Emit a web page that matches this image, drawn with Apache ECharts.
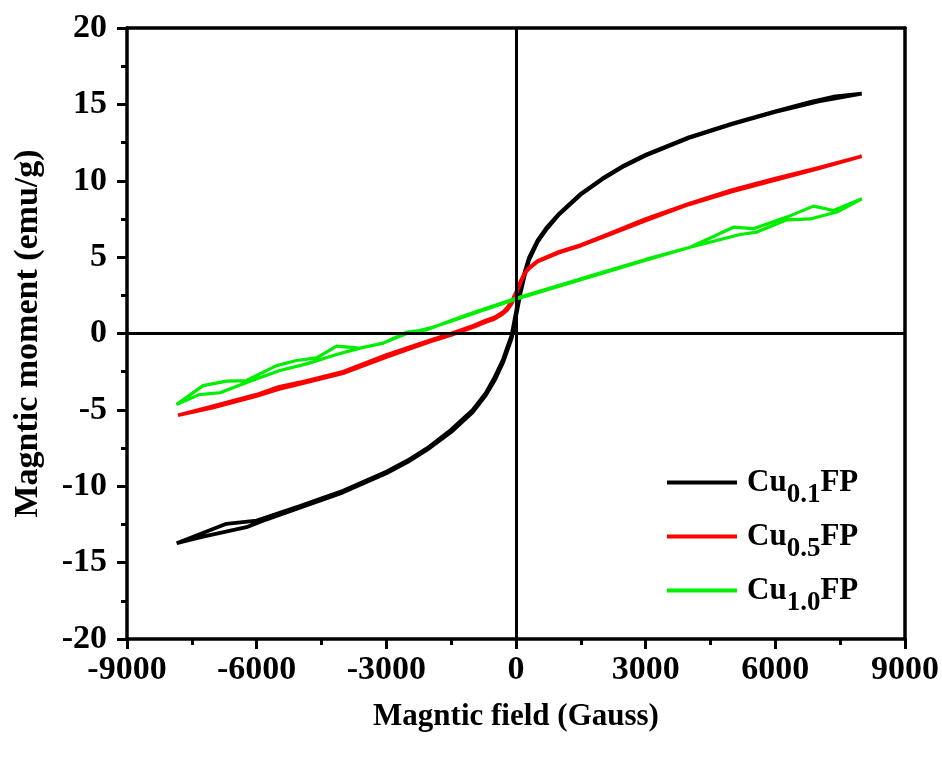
<!DOCTYPE html>
<html><head><meta charset="utf-8">
<script src="https://cdn.jsdelivr.net/npm/echarts@6/dist/echarts.min.js"></script>
<style>html,body{margin:0;padding:0;background:#fff}#c{width:942px;height:760px}</style>
</head><body><div id="c"></div>
<script>
// Axis settings
const xRange = [-9000, 9000];
const xStep = 3000;
const yRange = [-20, 20];
const yStep = 5;
const xTitle = 'Magntic field (Gauss)';
const yTitle = 'Magntic moment (emu/g)';

// Cu0.1FP — descending branch
const cu01FieldDown = [8000, 7340, 6800, 6000, 5000, 4000, 3000, 2500, 2000, 1500, 1000, 700, 500, 300, 200, 100, 0, -100, -200, -300, -500, -700, -1000, -1500, -2000, -2500, -3000, -4000, -5000, -6000, -6700, -7850];
const cu01MomentDown = [15.7, 15.5, 15.15, 14.55, 13.75, 12.85, 11.7, 11.0, 10.15, 9.15, 7.85, 6.9, 6.1, 4.95, 4.0, 2.9, 1.4, -0.1, -0.9, -1.7, -2.9, -3.9, -5.0, -6.3, -7.4, -8.3, -9.05, -10.3, -11.3, -12.25, -12.46, -13.73];
// Cu0.1FP — ascending branch
const cu01FieldUp = [-7850, -7240, -6235, -5900, -5000, -4000, -3000, -2500, -2000, -1500, -1000, -700, -500, -300, -200, -100, 0, 100, 200, 300, 500, 700, 1000, 1500, 2000, 2500, 3000, 4000, 5000, 6000, 7000, 8000];
const cu01MomentUp = [-13.73, -13.3, -12.68, -12.3, -11.4, -10.4, -9.15, -8.4, -7.5, -6.45, -5.15, -4.05, -3.1, -1.9, -1.1, -0.3, 1.1, 2.6, 3.8, 4.8, 6.0, 6.8, 7.8, 9.1, 10.1, 10.95, 11.65, 12.8, 13.7, 14.5, 15.2, 15.7];

// Cu0.5FP
const cu05FieldDown = [8000, 7000, 6000, 5000, 4000, 3000, 2000, 1500, 1000, 500, 300, 200, 100, 0, -100, -200, -300, -500, -700, -1000, -1500, -2000, -3000, -4000, -5000, -5500, -6000, -7000, -7820];
const cu05MomentDown = [11.6, 10.85, 10.15, 9.4, 8.5, 7.5, 6.35, 5.8, 5.35, 4.75, 4.3, 3.95, 3.4, 2.7, 2.1, 1.7, 1.4, 1.05, 0.85, 0.5, 0.0, -0.45, -1.4, -2.5, -3.2, -3.5, -4.0, -4.75, -5.35];
const cu05FieldUp = [-7820, -7000, -6000, -5500, -5000, -4000, -3000, -2000, -1500, -1000, -700, -500, -300, -200, -100, 0, 100, 200, 300, 500, 1000, 1500, 2000, 3000, 4000, 5000, 6000, 7000, 8000];
const cu05MomentUp = [-5.35, -4.85, -4.1, -3.65, -3.3, -2.6, -1.55, -0.55, -0.1, 0.4, 0.75, 0.95, 1.3, 1.55, 1.95, 2.55, 3.3, 3.9, 4.25, 4.7, 5.3, 5.75, 6.3, 7.4, 8.45, 9.3, 10.05, 10.8, 11.6];

// Cu1.0FP
const cu10FieldDown = [8002, 7346, 6883, 6265, 5494, 5030, 4028, 3000, 2000, 1000, 0, -1000, -1450, -2067, -2530, -3071, -3611, -4150, -4613, -5076, -5540, -6235, -6700, -7240, -7855];
const cu10MomentDown = [8.82, 8.05, 8.34, 7.62, 6.86, 6.96, 5.65, 4.85, 4.0, 3.15, 2.3, 1.35, 0.9, 0.24, 0.09, -0.63, -0.96, -0.83, -1.6, -1.77, -2.1, -3.08, -3.12, -3.41, -4.65];
const cu10FieldUp = [-7855, -7330, -6850, -6157, -5463, -4846, -4150, -3611, -3071, -2530, -2000, -1450, -1000, 0, 1000, 2000, 3000, 4028, 5185, 5571, 6265, 6806, 7423, 8002];
const cu10MomentUp = [-4.65, -4.0, -3.88, -3.12, -2.42, -1.99, -1.38, -0.96, -0.63, 0.0, 0.35, 0.85, 1.3, 2.25, 3.1, 3.95, 4.8, 5.65, 6.48, 6.64, 7.44, 7.5, 7.95, 8.82];

const seriesNames = ['Cu0.1FP', 'Cu0.5FP', 'Cu1.0FP'];
const seriesColors = ['#000000', '#ff0000', '#00ee00'];
const seriesWidths = [3.8, 3.6, 3.2];

function loop(fd, md, fu, mu) {
  const pts = [];
  for (let i = 0; i < fd.length; i++) pts.push([fd[i], md[i]]);
  for (let i = 0; i < fu.length; i++) pts.push([fu[i], mu[i]]);
  return pts;
}
const loops = [
  loop(cu01FieldDown, cu01MomentDown, cu01FieldUp, cu01MomentUp),
  loop(cu05FieldDown, cu05MomentDown, cu05FieldUp, cu05MomentUp),
  loop(cu10FieldDown, cu10MomentDown, cu10FieldUp, cu10MomentUp)
];

const FONT = 'Liberation Serif';
const chart = echarts.init(document.getElementById('c'), null, {renderer: 'canvas'});

const plain = v => String(v);
const axisLineStyle = {color: '#000', width: 3.5};
const mainX = {
  type: 'value', min: xRange[0], max: xRange[1], interval: xStep,
  position: 'bottom',
  name: xTitle, nameLocation: 'middle', nameGap: 62,
  nameTextStyle: {fontFamily: FONT, fontWeight: 'bold', fontSize: 31, color: '#000'},
  axisLine: {show: true, onZero: false, lineStyle: axisLineStyle},
  axisTick: {show: true, inside: false, length: 10, lineStyle: {color: '#000', width: 3}},
  minorTick: {show: true, splitNumber: 2, length: 6, lineStyle: {color: '#000', width: 3}},
  axisLabel: {fontFamily: FONT, fontWeight: 'bold', fontSize: 34, color: '#000', margin: 14, formatter: plain},
  splitLine: {show: false}
};
const mainY = {
  type: 'value', min: yRange[0], max: yRange[1], interval: yStep,
  position: 'left',
  name: yTitle, nameLocation: 'middle', nameGap: 82,
  nameTextStyle: {fontFamily: FONT, fontWeight: 'bold', fontSize: 34, color: '#000'},
  axisLine: {show: true, onZero: false, lineStyle: axisLineStyle},
  axisTick: {show: true, inside: false, length: 10, lineStyle: {color: '#000', width: 3}},
  minorTick: {show: true, splitNumber: 2, length: 6, lineStyle: {color: '#000', width: 3}},
  axisLabel: {fontFamily: FONT, fontWeight: 'bold', fontSize: 34, color: '#000', margin: 20, formatter: plain},
  splitLine: {show: false}
};
const boxX = {
  type: 'value', min: xRange[0], max: xRange[1], interval: xStep, position: 'top',
  axisLine: {show: true, onZero: false, lineStyle: axisLineStyle},
  axisTick: {show: false}, axisLabel: {show: false}, splitLine: {show: false}
};
const boxY = {
  type: 'value', min: yRange[0], max: yRange[1], interval: yStep, position: 'right',
  axisLine: {show: true, onZero: false, lineStyle: axisLineStyle},
  axisTick: {show: false}, axisLabel: {show: false}, splitLine: {show: false}
};

const legendRich = {
  c: {fontFamily: FONT, fontWeight: 'bold', fontSize: 31, color: '#000', lineHeight: 40, padding: [0, 0, 0, 5]},
  a: {fontFamily: FONT, fontWeight: 'bold', fontSize: 31, color: '#000', lineHeight: 40},
  b: {fontFamily: FONT, fontWeight: 'bold', fontSize: 27, color: '#000', lineHeight: 40, padding: [26, 0, 0, 0]}
};

const series = loops.map((pts, i) => ({
  name: seriesNames[i],
  type: 'line',
  data: pts,
  symbol: 'none',
  showSymbol: false,
  smooth: false,
  z: 3,
  lineStyle: {color: seriesColors[i], width: seriesWidths[i]},
  itemStyle: {color: seriesColors[i]},
  emphasis: {disabled: true}
}));
series.push({
  type: 'line', data: [], z: 1, silent: true,
  markLine: {
    silent: true, symbol: 'none', animation: false,
    label: {show: false},
    lineStyle: {color: '#000', width: 3, type: 'solid'},
    emphasis: {disabled: true},
    data: [{xAxis: 0}, {yAxis: 0}]
  }
});

chart.setOption({
  backgroundColor: '#fff',
  animation: false,
  grid: {left: 127, right: 36, top: 28, bottom: 121, containLabel: false},
  xAxis: [mainX, boxX],
  yAxis: [mainY, boxY],
  legend: {
    data: seriesNames,
    orient: 'vertical',
    left: 662, top: 451,
    itemWidth: 70, itemHeight: 14, itemGap: 1,
    icon: 'path://M0,0 L70,0 L70,4 L0,4 Z',
    selectedMode: false,
    textStyle: {rich: legendRich},
    formatter: function (name) {
      const m = name.match(/^Cu([0-9.]+)FP$/);
      return '{c|Cu}{b|' + m[1] + '}{a|FP}';
    }
  },
  series: series
});
</script>
</body></html>
